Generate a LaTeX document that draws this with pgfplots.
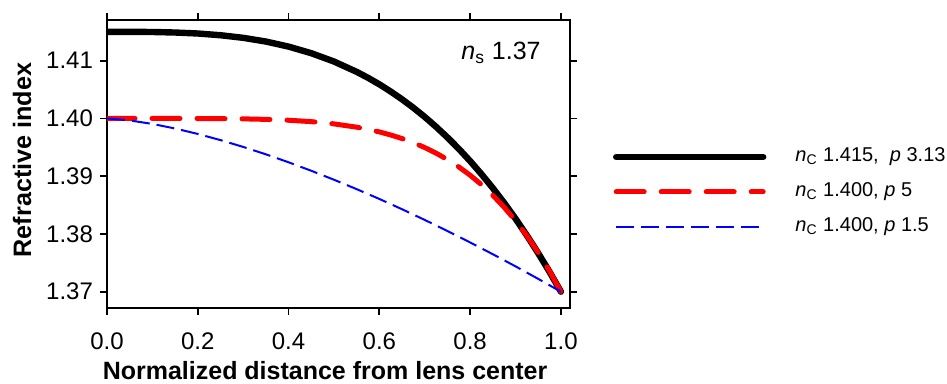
\documentclass[border=0pt]{standalone}
\usepackage{fontspec}
\setmainfont{Liberation Sans}
\usepackage{pgfplots}
\pgfplotsset{compat=1.18}
\begin{document}
\begin{tikzpicture}[x=1pt,y=1pt]
\path[use as bounding box] (0,0) rectangle (473.5,192);
\begin{axis}[
  at={(53.5pt,38pt)}, anchor=south west,
  scale only axis, width=231.5pt, height=144pt,
  xmin=0, xmax=1.02, ymin=1.36718, ymax=1.41705,
  xtick={0,0.2,0.4,0.6,0.8,1.0},
  ytick={1.37,1.38,1.39,1.40,1.41},
  tick align=outside, major tick length=3.5pt,
  tick style={black, line width=0.9pt},
  axis line style={line width=0.9pt},
  xticklabel style={font=\fontsize{12}{14}\selectfont,
    /pgf/number format/.cd, fixed, fixed zerofill, precision=1, assume math mode=true},
  yticklabel style={font=\fontsize{12}{14}\selectfont,
    /pgf/number format/.cd, fixed, fixed zerofill, precision=2, assume math mode=true},
  xticklabel shift=5.5pt,
  xlabel={Normalized distance from lens center},
  ylabel={Refractive index},
  xlabel style={at={(axis description cs:0.471,0)}, anchor=center, yshift=-31.5pt,
    font=\bfseries\fontsize{12.5}{14}\selectfont},
  ylabel style={at={(axis description cs:-0.1836,0.514)}, anchor=center,
    font=\bfseries\fontsize{12.6}{14}\selectfont},
  legend style={draw=none, fill=none, inner sep=0pt, outer sep=0pt,
    at={(axis description cs:1.0929,0.5625)}, anchor=north west,
    font=\fontsize{10}{12}\selectfont, column sep=14.5pt, row sep=6.5pt,
    nodes={inner sep=0pt, text height=8pt, text depth=3pt}},
  legend cell align=left,
  legend image code/.code={\draw[#1] (0pt,0pt) -- (73.5pt,0pt);},
]
\addplot[black, line width=3.2pt, line cap=round] coordinates {
(0,1.41500) (0.05,1.41500) (0.1,1.41497) (0.15,1.41488) (0.2,1.41471) (0.25,1.41441)
(0.3,1.41396) (0.35,1.41332) (0.4,1.41244) (0.45,1.41130) (0.5,1.40986) (0.55,1.40807)
(0.575,1.40704) (0.6,1.40591) (0.625,1.40466) (0.65,1.40331) (0.675,1.40185) (0.7,1.40026)
(0.725,1.39855) (0.75,1.39671) (0.775,1.39474) (0.8,1.39262) (0.825,1.39035) (0.85,1.38794)
(0.875,1.38537) (0.9,1.38264) (0.925,1.37974) (0.95,1.37667) (0.975,1.37343) (1.0,1.37000)
};
\addlegendentry{{\itshape n}\textsubscript{C} 1.415,\ \ {\itshape p} 3.13}
\addplot[red, line width=2.5pt, line cap=round, dash pattern=on 14pt off 8.5pt] coordinates {
(0,1.40000) (0.1,1.40000) (0.2,1.39999) (0.25,1.39997) (0.3,1.39993) (0.35,1.39984)
(0.4,1.39969) (0.45,1.39945) (0.5,1.39906) (0.55,1.39849) (0.575,1.39811) (0.6,1.39767)
(0.625,1.39714) (0.65,1.39652) (0.675,1.39580) (0.7,1.39496) (0.725,1.39399) (0.75,1.39288)
(0.775,1.39161) (0.8,1.39017) (0.825,1.38853) (0.85,1.38669) (0.875,1.38461) (0.9,1.38229)
(0.925,1.37968) (0.95,1.37679) (0.975,1.37357) (1.0,1.37000)
};
\addlegendentry{{\itshape n}\textsubscript{C} 1.400, {\itshape p} 5}
\addplot[blue, line width=1pt, dash pattern=on 9pt off 3.5pt] coordinates {
(0,1.40000) (0.05,1.39966) (0.1,1.39905) (0.15,1.39826) (0.2,1.39732) (0.25,1.39625)
(0.3,1.39507) (0.35,1.39379) (0.4,1.39241) (0.45,1.39094) (0.5,1.38939) (0.55,1.38776)
(0.6,1.38606) (0.65,1.38428) (0.7,1.38243) (0.75,1.38051) (0.8,1.37853) (0.85,1.37649)
(0.9,1.37439) (0.95,1.37222) (1.0,1.37000)
};
\addlegendentry{{\itshape n}\textsubscript{C} 1.400, {\itshape p} 1.5}
\node[font=\fontsize{12.5}{14}\selectfont] at (axis description cs:0.851,0.885)
  {{\itshape n}\textsubscript{s}\ 1.37};
\end{axis}
\end{tikzpicture}
\end{document}
